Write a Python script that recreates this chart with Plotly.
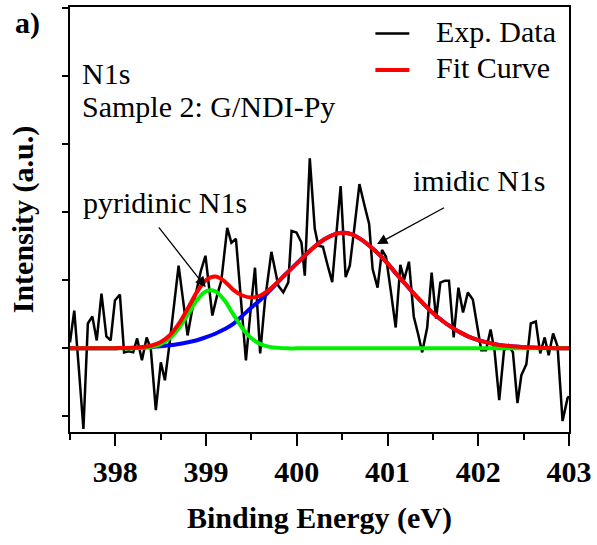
import plotly.graph_objects as go

# Measured N1s spectrum (binding energy in eV, intensity in arbitrary units)
exp_energy = [
    397.500, 397.547, 397.598, 397.648, 397.697, 397.746, 397.795, 397.847, 397.901, 397.948,
    397.995, 398.050, 398.096, 398.148, 398.197, 398.240, 398.293, 398.345, 398.391, 398.446,
    398.501, 398.546, 398.599, 398.648, 398.697, 398.747, 398.796, 398.845, 398.894, 398.943,
    398.993, 399.031, 399.069, 399.118, 399.168, 399.233, 399.279, 399.329, 399.381, 399.439,
    399.490, 399.539, 399.596, 399.649, 399.720, 399.796, 399.851, 399.906, 399.942, 399.996,
    400.051, 400.088, 400.143, 400.198, 400.237, 400.288, 400.338, 400.390, 400.436, 400.483,
    400.538, 400.584, 400.633, 400.690, 400.742, 400.797, 400.835, 400.890, 400.939, 400.983,
    401.037, 401.090, 401.141, 401.183, 401.236, 401.289, 401.338, 401.382, 401.437, 401.486,
    401.535, 401.582, 401.633, 401.677, 401.729, 401.781, 401.832, 401.885, 401.940, 401.989,
    402.033, 402.085, 402.136, 402.180, 402.231, 402.284, 402.333, 402.382, 402.432, 402.475,
    402.530, 402.579, 402.634, 402.683, 402.732, 402.776, 402.825, 402.874, 402.929, 402.984,
    403.000,
]
exp_intensity = [
    0.088, 0.556, -0.307, -1.186, 0.366, 0.469, 0.117, 0.805, 0.176, 0.117,
    0.703, 0.791, -0.059, -0.044, -0.059, 0.146, -0.176, 0.161, -0.015, -0.908,
    -0.205, -0.469, 0.088, 0.659, 1.215, 0.703, 0.190, 0.556, 0.849, 1.142,
    1.362, 0.922, 0.483, 0.761, 0.996, 1.772, 1.552, 1.611, 0.703, -0.176,
    0.556, 1.186, -0.073, 0.703, 1.420, 0.922, 0.824, 0.971, 1.728, 1.703,
    1.556, 1.069, 2.796, 1.757, 1.508, 1.493, 1.230, 0.974, 1.684, 2.387,
    1.047, 1.215, 1.757, 2.416, 2.123, 1.830, 1.171, 0.893, 1.449, 1.347,
    0.835, 0.307, 1.230, 1.010, 1.274, 0.469, 0.205, -0.059, 0.307, 1.113,
    0.439, 0.966, 0.996, 0.996, 0.161, 0.893, 0.527, 0.820, 0.717, 0.337,
    -0.029, -0.029, 0.278, -0.044, -0.761, -0.029, 0.044, -0.059, -0.805, -0.395,
    -0.234, 0.366, 0.395, -0.073, 0.161, -0.102, 0.220, 0.029, -1.069, -0.732,
    -0.703,
]

# Fitted components on a 0.1 eV grid
fit_energy = [
    397.5, 397.6, 397.7, 397.8, 397.9, 398.0, 398.1, 398.2, 398.3, 398.4,
    398.5, 398.6, 398.7, 398.8, 398.9, 399.0, 399.1, 399.2, 399.3, 399.4,
    399.5, 399.6, 399.7, 399.8, 399.9, 400.0, 400.1, 400.2, 400.3, 400.4,
    400.5, 400.6, 400.7, 400.8, 400.9, 401.0, 401.1, 401.2, 401.3, 401.4,
    401.5, 401.6, 401.7, 401.8, 401.9, 402.0, 402.1, 402.2, 402.3, 402.4,
    402.5, 402.6, 402.7, 402.8, 402.9, 403.0,
]
imidic_component = [
    0.000, 0.000, 0.001, 0.001, 0.002, 0.003, 0.005, 0.008, 0.013, 0.020,
    0.030, 0.045, 0.065, 0.090, 0.120, 0.165, 0.215, 0.280, 0.360, 0.480,
    0.600, 0.715, 0.845, 0.985, 1.120, 1.250, 1.380, 1.500, 1.600, 1.670,
    1.700, 1.680, 1.610, 1.510, 1.390, 1.250, 1.090, 0.940, 0.790, 0.650,
    0.520, 0.410, 0.315, 0.235, 0.170, 0.120, 0.085, 0.058, 0.039, 0.026,
    0.017, 0.011, 0.007, 0.004, 0.002, 0.001,
]
pyridinic_component = [
    0.000, 0.000, 0.000, 0.000, 0.000, 0.000, 0.000, 0.000, 0.007, 0.022,
    0.062, 0.148, 0.297, 0.500, 0.710, 0.840, 0.840, 0.710, 0.500, 0.297,
    0.148, 0.062, 0.022, 0.007, 0.000, 0.000, 0.000, 0.000, 0.000, 0.000,
    0.000, 0.000, 0.000, 0.000, 0.000, 0.000, 0.000, 0.000, 0.000, 0.000,
    0.000, 0.000, 0.000, 0.000, 0.000, 0.000, 0.000, 0.000, 0.000, 0.000,
    0.000, 0.000, 0.000, 0.000, 0.000, 0.000,
]
fit_curve = [
    0.000, 0.000, 0.001, 0.001, 0.002, 0.003, 0.005, 0.008, 0.020, 0.042,
    0.092, 0.193, 0.362, 0.590, 0.830, 1.005, 1.055, 0.990, 0.860, 0.777,
    0.748, 0.777, 0.867, 0.992, 1.120, 1.250, 1.380, 1.500, 1.600, 1.670,
    1.700, 1.680, 1.610, 1.510, 1.390, 1.250, 1.090, 0.940, 0.790, 0.650,
    0.520, 0.410, 0.315, 0.235, 0.170, 0.120, 0.085, 0.058, 0.039, 0.026,
    0.017, 0.011, 0.007, 0.004, 0.002, 0.001,
]

x_ticks = [398, 399, 400, 401, 402, 403]
legend_labels = ["Exp. Data", "Fit Curve"]

SERIF = "Liberation Serif"
TEXT_SIZE = 30

fig = go.Figure()
fig.add_trace(go.Scatter(x=exp_energy, y=exp_intensity, mode="lines",
                         line=dict(color="black", width=2.5), name=legend_labels[0]))
fig.add_trace(go.Scatter(x=fit_energy, y=imidic_component, mode="lines",
                         line=dict(color="#0000ff", width=4, shape="spline"), name="imidic N1s"))
fig.add_trace(go.Scatter(x=fit_energy, y=pyridinic_component, mode="lines",
                         line=dict(color="#00f000", width=4, shape="spline"), name="pyridinic N1s"))
fig.add_trace(go.Scatter(x=fit_energy, y=fit_curve, mode="lines",
                         line=dict(color="#ff0000", width=4, shape="spline"), name=legend_labels[1]))

# Hand-placed legend at the top right of the frame
legend_rows = [(0.9375, "black"), (0.8518, "#ff0000")]
for (ypos, col), label in zip(legend_rows, legend_labels):
    fig.add_shape(type="line", xref="paper", yref="paper", x0=0.612, x1=0.680,
                  y0=ypos, y1=ypos, line=dict(color=col, width=2.5 if col == "black" else 4))
    fig.add_annotation(xref="paper", yref="paper", x=0.7296, y=ypos + 0.006, text=label,
                       showarrow=False, xanchor="left", yanchor="middle",
                       font=dict(family=SERIF, size=TEXT_SIZE, color="black"))

# Sample description
fig.add_annotation(xref="paper", yref="paper", x=0.0199, y=0.843, text="N1s",
                   showarrow=False, xanchor="left", yanchor="middle",
                   font=dict(family=SERIF, size=TEXT_SIZE, color="black"))
fig.add_annotation(xref="paper", yref="paper", x=0.0199, y=0.766, text="Sample 2: G/NDI-Py",
                   showarrow=False, xanchor="left", yanchor="middle",
                   font=dict(family=SERIF, size=TEXT_SIZE, color="black"))

# Peak labels with arrows
fig.add_annotation(x=398.55, y=2.14, text="pyridinic N1s", showarrow=False,
                   font=dict(family=SERIF, size=TEXT_SIZE, color="black"))
fig.add_annotation(x=398.996, y=0.90, ax=398.466, ay=1.80, axref="x", ayref="y",
                   text="", showarrow=True, arrowhead=2, arrowsize=1.6, arrowwidth=1.3,
                   arrowcolor="black")
fig.add_annotation(x=402.01, y=2.47, text="imidic N1s", showarrow=False,
                   font=dict(family=SERIF, size=TEXT_SIZE, color="black"))
fig.add_annotation(x=400.884, y=1.533, ax=401.639, ay=2.079, axref="x", ayref="y",
                   text="", showarrow=True, arrowhead=2, arrowsize=1.6, arrowwidth=1.3,
                   arrowcolor="black")

# Panel tag
fig.add_annotation(xref="paper", yref="paper", x=-0.0845, y=0.962, text="a)",
                   showarrow=False, xanchor="center", yanchor="middle",
                   font=dict(family=SERIF, size=30, color="black", weight="bold"))

fig.update_layout(
    width=597, height=545,
    margin=dict(l=70, r=24, t=5, b=113),
    paper_bgcolor="white", plot_bgcolor="white",
    showlegend=False,
    font=dict(family=SERIF, color="black"),
    xaxis=dict(
        range=[397.5, 403], tickvals=x_ticks, ticks="outside", ticklen=12, tickwidth=2,
        tickcolor="black", showline=True, linewidth=2, linecolor="black", mirror=True,
        showgrid=False, zeroline=False,
        tickfont=dict(family=SERIF, size=30, color="black", weight="bold"),
        minor=dict(dtick=0.5, tick0=397.5, ticks="outside", ticklen=6, tickwidth=2,
                   tickcolor="black", showgrid=False),
        title=dict(text="Binding Energy (eV)", standoff=20,
                   font=dict(family=SERIF, size=30, color="black", weight="bold")),
    ),
    yaxis=dict(
        range=[-1.23, 5.02], dtick=1, tick0=0, ticks="outside", ticklen=6, tickwidth=2,
        tickcolor="black", showline=True, linewidth=2, linecolor="black", mirror=True,
        showgrid=False, zeroline=False, showticklabels=False,
        title=dict(text="Intensity (a.u.)", standoff=20,
                   font=dict(family=SERIF, size=30, color="black", weight="bold")),
    ),
)

fig.write_html("out.html")
